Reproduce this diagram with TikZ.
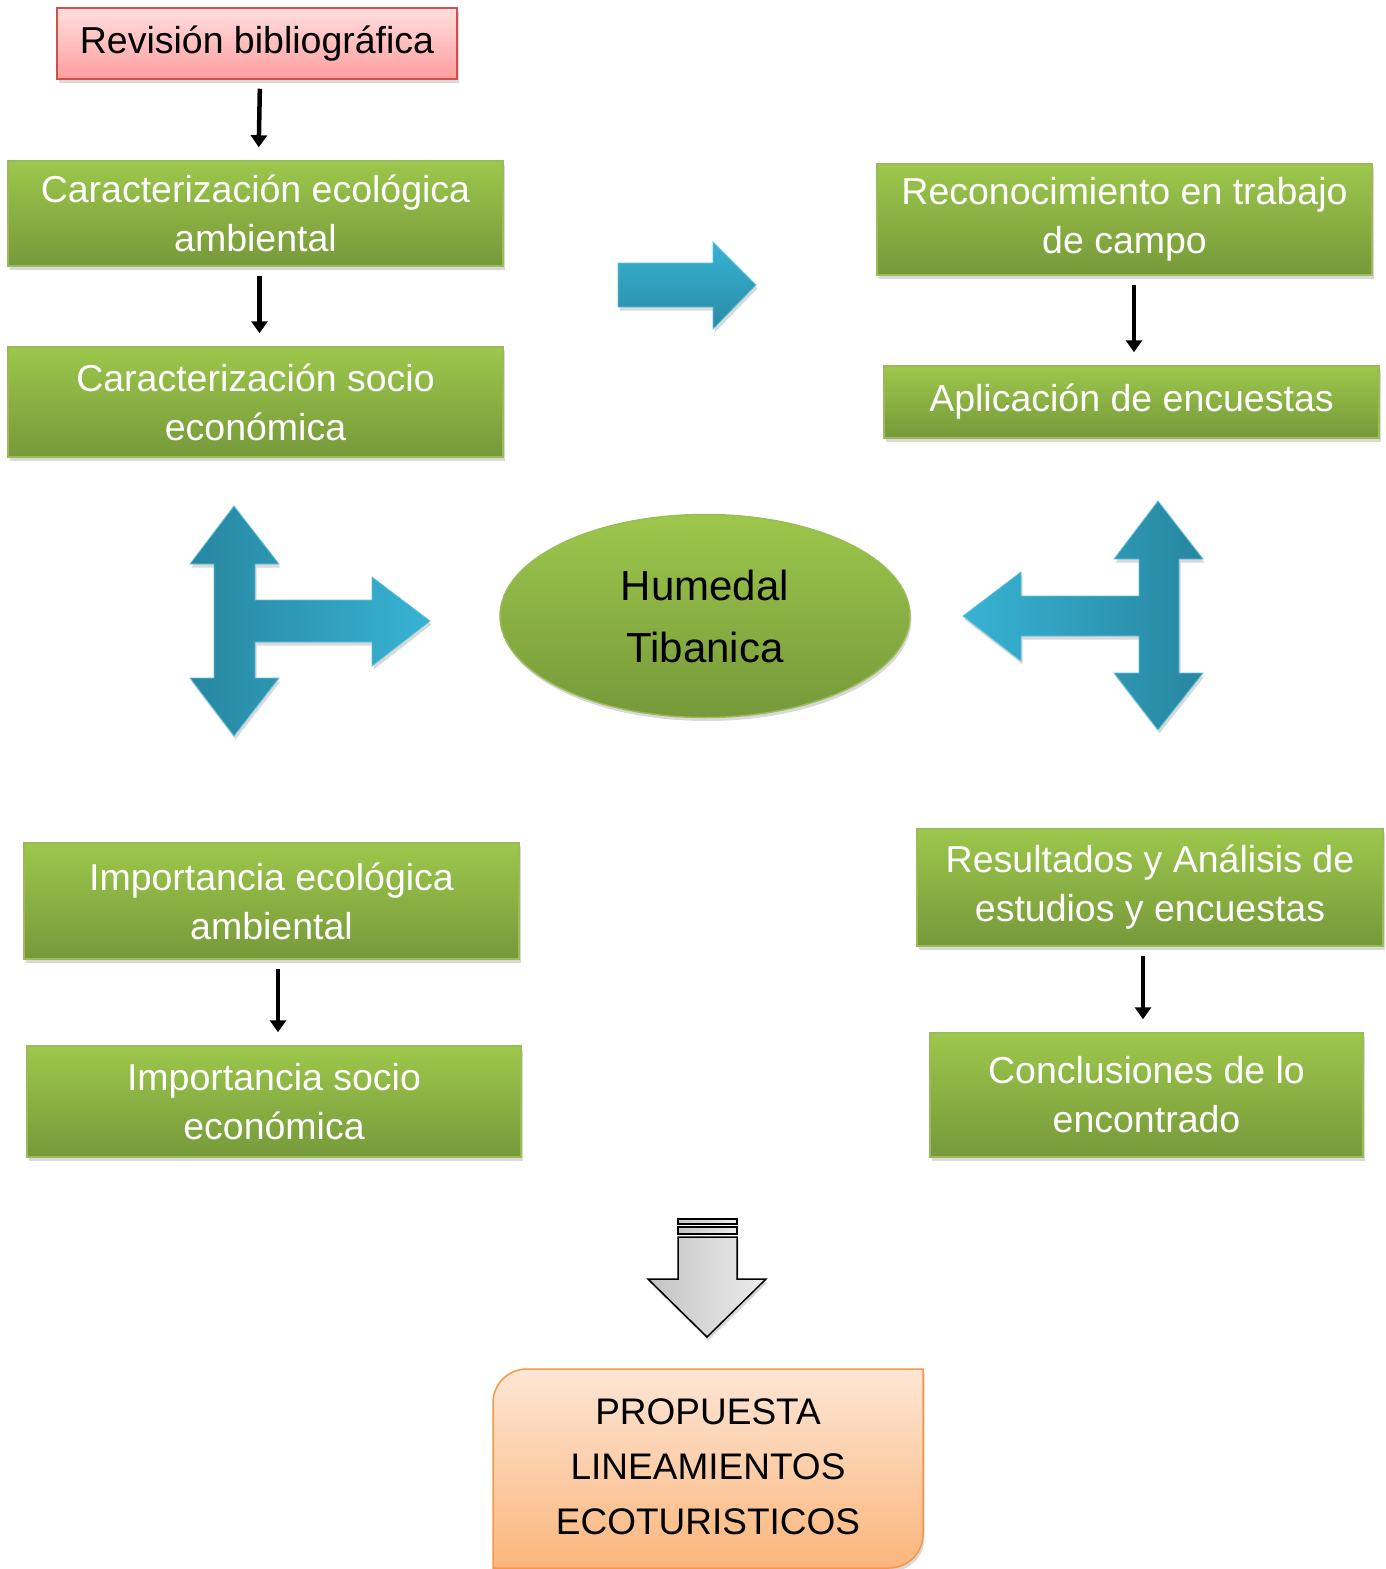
\documentclass[tikz,border=0pt]{standalone}
\usepackage{fontspec}
\setmainfont{Liberation Sans}
\usetikzlibrary{shapes.geometric,shadows,arrows.meta,calc}
\definecolor{gtop}{HTML}{9DC74C}
\definecolor{gbot}{HTML}{76993A}
\definecolor{gborder}{HTML}{9BBB59}
\definecolor{ptop}{HTML}{FFDEDE}
\definecolor{pbot}{HTML}{FF9E9E}
\definecolor{pborder}{HTML}{D0504D}
\definecolor{otop}{HTML}{FDE6D5}
\definecolor{obot}{HTML}{FBB67C}
\definecolor{oborder}{HTML}{F79646}
\definecolor{bdark}{HTML}{2886A0}
\definecolor{bmid}{HTML}{2E98B4}
\definecolor{blight}{HTML}{37B3D4}
\definecolor{gdark}{HTML}{C4C4C4}
\definecolor{glight}{HTML}{ECECEC}
\begin{document}
\begin{tikzpicture}[x=1pt,y=-1pt,
  softshadow/.style={drop shadow={opacity=0.3,shadow xshift=1.5pt,shadow yshift=-3.5pt}},
  gbox/.style={rectangle,inner sep=0pt,top color=gtop,bottom color=gbot,draw=gborder,
    line width=1.5pt,text=white,align=center,font=\fontsize{37.5}{49}\selectfont,softshadow},
  pbox/.style={rectangle,inner sep=0pt,top color=ptop,bottom color=pbot,draw=pborder,
    line width=1.5pt,text=black,align=center,font=\fontsize{37.5}{49}\selectfont,softshadow},
  arr/.style={line width=4.5pt,-{Triangle[length=12pt,width=16pt]},shorten <=9pt,shorten >=13pt},
  bluearrow/.style={draw=blight!80!white,line width=0.8pt,softshadow}
]
\useasboundingbox (0,0) rectangle (1386,1569);

% boxes
\node[pbox,minimum width=400pt,minimum height=71pt] (rev) at (257,43.5) {Revisión bibliográfica};
\node[gbox,minimum width=495pt,minimum height=105pt] (car1) at (255.5,213.5) {Caracterización ecológica\\ambiental};
\node[gbox,minimum width=495pt,minimum height=110pt] (car2) at (255.5,402) {Caracterización socio\\económica};
\node[gbox,minimum width=495pt,minimum height=111pt] (reco) at (1124.5,219.5) {Reconocimiento en trabajo\\de campo};
\node[gbox,minimum width=495pt,minimum height=72pt] (aplic) at (1131.5,402) {Aplicación de encuestas};
\node[gbox,minimum width=495pt,minimum height=116pt] (imp1) at (271.5,901) {Importancia ecológica\\ambiental};
\node[gbox,minimum width=494pt,minimum height=111pt] (imp2) at (274,1101.5) {Importancia socio\\económica};
\node[gbox,minimum width=466pt,minimum height=117pt] (res) at (1150,887.5) {Resultados y Análisis de\\estudios y encuestas};
\node[gbox,minimum width=433pt,minimum height=124pt] (conc) at (1146.5,1095) {Conclusiones de lo\\encontrado};

% ellipse
\node[ellipse,inner sep=0pt,minimum width=410pt,minimum height=203pt,top color=gtop,bottom color=gbot,
  draw=gborder,line width=1.5pt,softshadow,align=center,font=\fontsize{42}{62}\selectfont] (hum) at (705,616) {Humedal\\Tibanica};

% black arrows
\draw[arr] ($(rev.south)+(3,0)$) -- ($(car1.north)+(3,0)$);
\draw[arr] ($(car1.south)+(4,0)$) -- ($(car2.north)+(4,0)$);
\draw[arr] (reco.south -| 1134,0) -- (aplic.north -| 1134,0);
\draw[arr] (imp1.south -| 278,0) -- (imp2.north -| 278,0);
\draw[arr] (res.south -| 1143,0) -- (conc.north -| 1143,0);

% top blue arrow
\shade[bluearrow,top color=blight,bottom color=bdark!90!blight]
  (618,263) -- (713,263) -- (713,242) -- (756,285) -- (713,329) -- (713,307) -- (618,307) -- cycle;

% left T arrow
\shade[bluearrow,left color=bdark,middle color=bmid,right color=blight]
  (234,506) -- (279,564) -- (255,564) -- (255,600) -- (372,600) -- (372,577) -- (430,621)
  -- (372,666) -- (372,642) -- (255,642) -- (255,678) -- (279,678) -- (234,736)
  -- (190,678) -- (214,678) -- (214,564) -- (190,564) -- cycle;

% right T arrow
\shade[bluearrow,left color=blight,middle color=bmid,right color=bdark]
  (1158,501) -- (1203,559) -- (1179,559) -- (1179,673) -- (1203,673) -- (1158,730)
  -- (1114,673) -- (1139,673) -- (1139,636) -- (1021,636) -- (1021,661) -- (963,616)
  -- (1021,572) -- (1021,596) -- (1139,596) -- (1139,559) -- (1114,559) -- cycle;

% gray down arrow
\shade[left color=gdark,right color=glight,draw=black,line width=1.5pt,softshadow]
  (678,1237) -- (737,1237) -- (737,1279) -- (766,1279) -- (707,1337) -- (648,1279) -- (678,1279) -- cycle;
\shade[left color=gdark,right color=glight,draw=black,line width=1.2pt] (678,1219) rectangle (737,1224);
\shade[left color=gdark,right color=glight,draw=black,line width=1.2pt] (678,1227) rectangle (737,1234);

% orange box
\shade[top color=otop,bottom color=obot,draw=oborder,line width=1.5pt,softshadow]
  (493,1568) -- (493,1403) .. controls (493,1384) and (508,1369) .. (527,1369)
  -- (923,1369) -- (923,1534) .. controls (923,1553) and (908,1568) .. (889,1568) -- cycle;
\node[align=center,font=\fontsize{37}{55}\selectfont,inner sep=0pt] (prop) at (708,1467)
  {PROPUESTA\\LINEAMIENTOS\\ECOTURISTICOS};
\end{tikzpicture}
\end{document}
